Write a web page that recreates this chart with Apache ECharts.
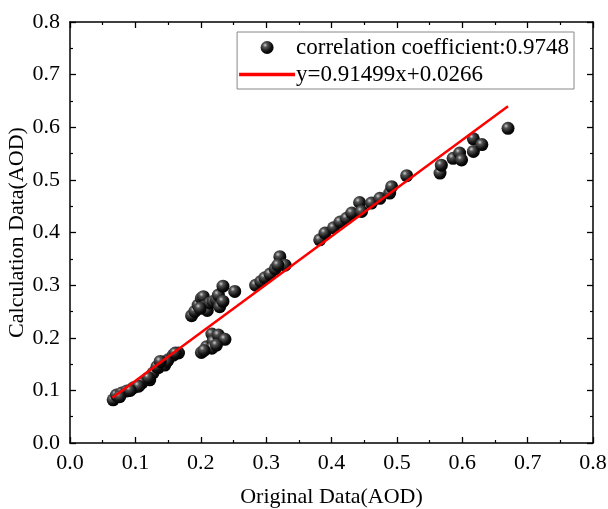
<!DOCTYPE html>
<html><head><meta charset="utf-8">
<script src="https://cdn.jsdelivr.net/npm/echarts@6/dist/echarts.min.js"></script>
<style>html,body{margin:0;padding:0;background:#fff}#c{width:608px;height:509px}</style>
</head><body><div id="c"></div>
<script>
const xVals = [0.066,0.071,0.079,0.087,0.097,0.110,0.122,0.127,0.135,0.145,0.150,0.158,0.166,0.148,0.161,0.120,0.105,0.092,0.076,0.133,0.138,
  0.186,0.191,0.196,0.201,0.204,0.206,0.210,0.214,0.219,0.224,0.227,0.229,0.234,0.234,0.199,0.252,
  0.201,0.209,0.217,0.219,0.227,0.237,0.217,0.224,0.205,
  0.284,0.292,0.298,0.306,0.314,0.321,0.329,0.318,
  0.382,0.390,0.403,0.413,0.423,0.431,0.443,0.446,0.461,0.474,0.489,0.492,0.515,
  0.566,0.568,0.586,0.596,0.599,0.617,0.617,0.630,0.670];
const yVals = [0.082,0.091,0.095,0.099,0.105,0.114,0.120,0.133,0.143,0.148,0.158,0.167,0.171,0.155,0.171,0.124,0.108,0.100,0.088,0.145,0.155,
  0.242,0.250,0.262,0.275,0.278,0.259,0.252,0.266,0.269,0.272,0.281,0.259,0.298,0.269,0.256,0.288,
  0.172,0.183,0.207,0.193,0.205,0.197,0.180,0.186,0.176,
  0.300,0.307,0.314,0.321,0.331,0.354,0.338,0.338,
  0.386,0.399,0.409,0.420,0.427,0.437,0.457,0.440,0.456,0.465,0.475,0.487,0.508,
  0.513,0.528,0.541,0.551,0.538,0.554,0.578,0.567,0.598];
const fitX = [0.065, 0.670];
const fitY = [0.086, 0.640];
const xTicks = ['0.0','0.1','0.2','0.3','0.4','0.5','0.6','0.7','0.8'];
const scatterName = 'correlation coefficient:0.9748';
const lineName = 'y=0.91499x+0.0266';

const font = 'Liberation Serif';
const chart = echarts.init(document.getElementById('c'), null, {renderer:'canvas'});
const sphere = new echarts.graphic.RadialGradient(0.35, 0.32, 0.7, [
  {offset:0, color:'#d0d0d0'},{offset:0.25, color:'#555'},{offset:0.7, color:'#111'},{offset:1, color:'#000'}]);
function axisCommon(){ return {
  min:0, max:0.8, interval:0.1,
  axisLine:{show:true, onZero:false, lineStyle:{color:'#000', width:1.5}},
  axisTick:{show:true, inside:true, length:6, lineStyle:{color:'#000', width:1.3}},
  minorTick:{show:true, splitNumber:2, length:3, lineStyle:{color:'#000', width:1.2}},
  splitLine:{show:false}
};}
chart.setOption({
  animation:false,
  backgroundColor:'#fff',
  grid:{left:70, right:15, top:22, bottom:66, containLabel:false, outerBoundsMode:'none'},
  legend:{
    orient:'vertical', right:34, top:32,
    borderColor:'#888', borderWidth:1, padding:[4,5,3,2], itemGap:4,
    itemWidth:56, itemHeight:13,
    textStyle:{fontFamily:font, fontSize:23, color:'#000', padding:[0,0,0,-4]},
    data:[{name:scatterName, icon:'circle'}, {name:lineName, icon:'path://M0,0h50v3h-50z'}]
  },
  xAxis:[
    Object.assign(axisCommon(), {type:'value', position:'bottom',
      name:'Original Data(AOD)', nameLocation:'middle', nameGap:43, nameMoveOverlap:false,
      nameTextStyle:{fontFamily:font, fontSize:22, color:'#000'},
      axisLabel:{fontFamily:font, fontSize:22, color:'#000', margin:9,
        formatter:(v)=>xTicks[Math.round(v*10)]}}),
    Object.assign(axisCommon(), {type:'value', position:'top', axisLabel:{show:false}})
  ],
  yAxis:[
    Object.assign(axisCommon(), {type:'value', position:'left',
      name:'Calculation Data(AOD)', nameLocation:'middle', nameGap:42, nameMoveOverlap:false,
      nameTextStyle:{fontFamily:font, fontSize:22, color:'#000'},
      axisLabel:{fontFamily:font, fontSize:22, color:'#000', margin:10,
        formatter:(v)=>v.toFixed(1)}}),
    Object.assign(axisCommon(), {type:'value', position:'right', axisLabel:{show:false}})
  ],
  series:[
    {name:scatterName, type:'scatter', symbol:'circle', symbolSize:13,
      itemStyle:{color:sphere, opacity:1},
      data:xVals.map((x,i)=>[x, yVals[i]])},
    {name:lineName, type:'line', symbol:'none', z:3,
      lineStyle:{color:'#ff0000', width:2.5},
      itemStyle:{color:'#ff0000'},
      data:fitX.map((x,i)=>[x, fitY[i]])}
  ]
});
</script></body></html>
